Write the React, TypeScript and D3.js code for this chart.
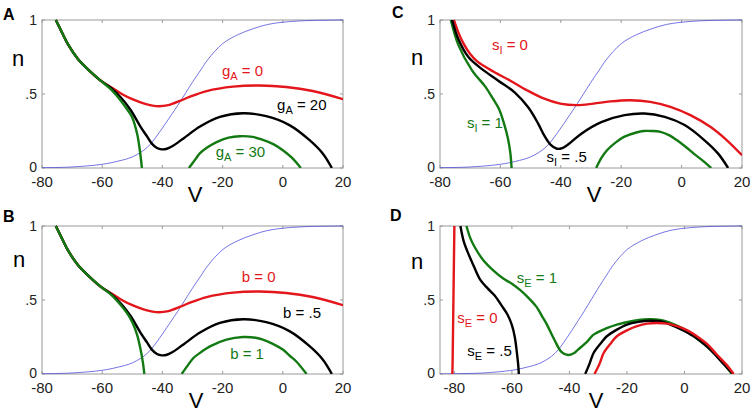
import React from "react";
import * as d3 from "d3";

type Pt = [number, number];

// ---- shared data ----
const X_TICKS_AB = [-80, -60, -40, -20, 0, 20];
const X_TICKS_CD = [-80, -60, -40, -20, 0, 20];
const Y_TICKS = [0, 0.5, 1];
const Y_TICK_LABELS = ["0", ".5", "1"];

// steady-state activation (blue, thin)
const N_INF: Pt[] = [
  [-85, 0.0], [-80, 0.002], [-70, 0.007], [-60, 0.025], [-55, 0.045], [-50, 0.075],
  [-45, 0.14], [-40, 0.27], [-37, 0.36], [-35, 0.42], [-32.5, 0.5], [-30, 0.58],
  [-27, 0.67], [-25, 0.73], [-20, 0.84], [-15, 0.9], [-10, 0.94], [-5, 0.97],
  [0, 0.985], [5, 0.993], [10, 0.997], [20, 1.0],
];

// ---- panel A ----
const A_RED: Pt[] = [
  [-75.4, 1], [-73, 0.9], [-71.5, 0.84], [-68.2, 0.74], [-64.9, 0.67], [-60.5, 0.59],
  [-57, 0.545], [-53.5, 0.5], [-50, 0.465], [-46, 0.435], [-42, 0.418], [-38, 0.425],
  [-34, 0.455], [-31, 0.48], [-25.3, 0.52], [-16.5, 0.55], [-7.7, 0.557], [1.1, 0.547],
  [9.9, 0.52], [20, 0.465],
];
const A_BLACK: Pt[] = [
  [-75.4, 1], [-73, 0.9], [-71.5, 0.84], [-68.2, 0.74], [-64.9, 0.67], [-60.5, 0.59],
  [-57, 0.54], [-53.5, 0.47], [-50.5, 0.39], [-47.3, 0.28], [-45, 0.21], [-43.5, 0.165],
  [-41.8, 0.135], [-40.2, 0.126], [-38.5, 0.13], [-36.9, 0.145], [-33, 0.2], [-27.5, 0.28],
  [-20.9, 0.345], [-13.2, 0.37], [-5.5, 0.35], [2.2, 0.29], [8.8, 0.19], [13.2, 0.1], [16.3, 0],
];
const A_GREEN_L: Pt[] = [
  [-75.4, 1], [-73, 0.9], [-71.5, 0.84], [-68.2, 0.74], [-64.9, 0.67], [-60.5, 0.59],
  [-57, 0.53], [-54, 0.46], [-51.5, 0.39], [-50.1, 0.345], [-48.4, 0.232], [-47.5, 0.12], [-46.8, 0],
];
const A_GREEN_R: Pt[] = [
  [-31.2, 0], [-29, 0.06], [-27.5, 0.1], [-25, 0.14], [-22, 0.175], [-18, 0.205],
  [-14.3, 0.215], [-10, 0.21], [-6.6, 0.19], [-3, 0.16], [0, 0.12], [3, 0.07], [6, 0],
];

// ---- panel B ----
const B_RED: Pt[] = A_RED;
const B_BLACK: Pt[] = A_BLACK;
const B_GREEN_L: Pt[] = [
  [-75.4, 1], [-73, 0.9], [-71.5, 0.84], [-68.2, 0.74], [-64.9, 0.67], [-60.5, 0.59],
  [-57, 0.535], [-54, 0.47], [-51.7, 0.41], [-50, 0.35], [-48.4, 0.265], [-47.3, 0.17], [-46.5, 0.08], [-46, 0],
];
const B_GREEN_R: Pt[] = [
  [-33.6, 0], [-31.5, 0.06], [-29.7, 0.108], [-27, 0.15], [-24.2, 0.187], [-18.7, 0.232],
  [-13.2, 0.25], [-9, 0.245], [-6.6, 0.232], [-3, 0.2], [0, 0.165], [2.5, 0.12], [4.4, 0.086], [7.9, 0],
];

// ---- panel C ----
const C_RED: Pt[] = [
  [-75.4, 1], [-74, 0.92], [-72.2, 0.84], [-70, 0.77], [-67.7, 0.72], [-62.2, 0.65],
  [-56.7, 0.59], [-51.2, 0.525], [-45.7, 0.47], [-40.2, 0.435], [-34.7, 0.425], [-29.2, 0.435],
  [-23.6, 0.45], [-17, 0.458], [-10.4, 0.447], [-3.7, 0.413], [2.9, 0.357], [9.5, 0.278],
  [15, 0.187], [20, 0.086],
];
const C_BLACK: Pt[] = [
  [-76, 1], [-73.9, 0.87], [-70.6, 0.75], [-66.2, 0.67], [-60.7, 0.59], [-55.2, 0.51],
  [-50.8, 0.41], [-47.5, 0.3], [-45.5, 0.22], [-43.5, 0.16], [-41.3, 0.13], [-39.5, 0.135],
  [-37.5, 0.16], [-33.2, 0.232], [-26.6, 0.31], [-18.9, 0.357], [-12.3, 0.368], [-5.6, 0.345],
  [1, 0.29], [7.6, 0.187], [12.1, 0.097], [15.4, 0],
];
const C_GREEN_L: Pt[] = [
  [-76.4, 1], [-73.9, 0.83], [-69.4, 0.66], [-65, 0.55], [-62.5, 0.47], [-60.5, 0.4],
  [-58.8, 0.3], [-57.5, 0.2], [-56.7, 0.1], [-56.3, 0],
];
const C_GREEN_R: Pt[] = [
  [-28.3, 0], [-26.5, 0.07], [-24.7, 0.12], [-22, 0.17], [-19.1, 0.21], [-15, 0.24],
  [-12.5, 0.25], [-10, 0.25], [-7, 0.244], [-4, 0.22], [-1.5, 0.187], [1.5, 0.14],
  [4, 0.097], [7, 0.05], [9.8, 0],
];

// ---- panel D ----
const D_RED_L: Pt[] = [[-80.0, 1], [-80.2, 0.7], [-80.4, 0.4], [-80.6, 0.1], [-80.7, 0]];
const D_RED_R: Pt[] = [
  [-31.3, 0], [-29.5, 0.07], [-28.1, 0.142], [-25.5, 0.21], [-23.5, 0.255], [-20, 0.295],
  [-16.5, 0.323], [-13, 0.34], [-9.6, 0.345], [-6, 0.34], [-2.6, 0.323], [1, 0.295],
  [4.3, 0.255], [8, 0.2], [11.3, 0.13], [14.5, 0.065], [17.1, 0],
];
const D_BLACK_L: Pt[] = [
  [-77.9, 1], [-76.8, 0.9], [-75.3, 0.82], [-73.5, 0.74], [-71.1, 0.64], [-68.5, 0.58],
  [-66, 0.53], [-63.5, 0.46], [-61.5, 0.4], [-60, 0.33], [-59, 0.25], [-58.3, 0.15],
  [-57.8, 0.06], [-57.6, 0],
];
const D_BLACK_R: Pt[] = [
  [-34.5, 0], [-33, 0.07], [-31.6, 0.142], [-29, 0.21], [-27, 0.255], [-23.5, 0.3],
  [-20, 0.334], [-16, 0.352], [-11.9, 0.36], [-8, 0.355], [-4.9, 0.334], [-1, 0.3],
  [3.2, 0.255], [7, 0.2], [10.1, 0.142], [13.5, 0.07], [16.9, 0],
];
const D_GREEN: Pt[] = [
  [-75.8, 1], [-74.5, 0.92], [-73, 0.86], [-70, 0.77], [-66.5, 0.7], [-63, 0.645],
  [-60, 0.61], [-57.3, 0.57], [-54.5, 0.52], [-51.5, 0.455], [-49.5, 0.39], [-48, 0.34],
  [-45.2, 0.23], [-42.8, 0.15], [-40.5, 0.128], [-38.5, 0.14], [-37, 0.165], [-34, 0.215],
  [-31.6, 0.266], [-27, 0.31], [-23.5, 0.334], [-18, 0.358], [-14.2, 0.368], [-10, 0.368],
  [-7.2, 0.36], [-3, 0.33], [0.9, 0.29], [5, 0.23], [9, 0.165], [13, 0.085], [16.5, 0],
];

const RED = "#e3161b";
const BLACK = "#000000";
const GREEN = "#137a13";
const BLUE = "#3a3ad8";
const FONT = "'Liberation Sans', Arial, Helvetica, sans-serif";

type Label = { v: number; n: number; main: string; sub: string; rest: string; color: string };
type Series = { pts: Pt[]; color: string };

type PanelSpec = {
  letter: string;
  letterX: number;
  letterY: number;
  left: number;
  right: number;
  top: number;
  bottom: number;
  domain: [number, number];
  ticks: number[];
  nX: number;
  nY: number;
  vX: number;
  series: Series[];
  labels: Label[];
};

const PANELS: PanelSpec[] = [
  {
    letter: "A", letterX: 3, letterY: 20,
    left: 42, right: 343, top: 20, bottom: 168, domain: [-80, 20], ticks: X_TICKS_AB,
    nX: 12, nY: 66, vX: 195,
    series: [
      { pts: A_RED, color: RED }, { pts: A_BLACK, color: BLACK }, { pts: A_GREEN_L, color: GREEN },
      { pts: A_GREEN_R, color: GREEN },
    ],
    labels: [
      { v: -20.2, n: 0.62, main: "g", sub: "A", rest: " = 0", color: RED },
      { v: -1.9, n: 0.395, main: "g", sub: "A", rest: " = 20", color: BLACK },
      { v: -22.3, n: 0.077, main: "g", sub: "A", rest: " = 30", color: GREEN },
    ],
  },
  {
    letter: "B", letterX: 3, letterY: 222,
    left: 42, right: 343, top: 226, bottom: 374, domain: [-80, 20], ticks: X_TICKS_AB,
    nX: 13, nY: 267, vX: 196,
    series: [
      { pts: B_RED, color: RED }, { pts: B_BLACK, color: BLACK }, { pts: B_GREEN_L, color: GREEN },
      { pts: B_GREEN_R, color: GREEN },
    ],
    labels: [
      { v: -13.6, n: 0.62, main: "b = 0", sub: "", rest: "", color: RED },
      { v: 0.1, n: 0.378, main: "b = .5", sub: "", rest: "", color: BLACK },
      { v: -17.5, n: 0.101, main: "b = 1", sub: "", rest: "", color: GREEN },
    ],
  },
  {
    letter: "C", letterX: 392, letterY: 18,
    left: 440, right: 742, top: 20, bottom: 168, domain: [-80, 20], ticks: X_TICKS_CD,
    nX: 411, nY: 65, vX: 594,
    series: [
      { pts: C_RED, color: RED }, { pts: C_GREEN_L, color: GREEN }, { pts: C_BLACK, color: BLACK },
      { pts: C_GREEN_R, color: GREEN },
    ],
    labels: [
      { v: -62.8, n: 0.797, main: "s", sub: "I", rest: " = 0", color: RED },
      { v: -71.1, n: 0.268, main: "s", sub: "I", rest: " = 1", color: GREEN },
      { v: -44.7, n: 0.043, main: "s", sub: "I", rest: " = .5", color: BLACK },
    ],
  },
  {
    letter: "D", letterX: 390, letterY: 221,
    left: 440, right: 742, top: 226, bottom: 374, domain: [-85, 20], ticks: X_TICKS_CD,
    nX: 411, nY: 269, vX: 596,
    series: [
      { pts: D_RED_L, color: RED }, { pts: D_BLACK_L, color: BLACK },
      { pts: D_GREEN, color: GREEN }, { pts: D_BLACK_R, color: BLACK }, { pts: D_RED_R, color: RED },
    ],
    labels: [
      { v: -58.3, n: 0.615, main: "s", sub: "E", rest: " = 1", color: GREEN },
      { v: -79, n: 0.343, main: "s", sub: "E", rest: " = 0", color: RED },
      { v: -75.5, n: 0.122, main: "s", sub: "E", rest: " = .5", color: BLACK },
    ],
  },
];

function Panel({ p, idx }: { p: PanelSpec; idx: number }) {
  const x = d3.scaleLinear().domain(p.domain).range([p.left, p.right]);
  const y = d3.scaleLinear().domain([0, 1]).range([p.bottom, p.top]);
  const line = d3
    .line<Pt>()
    .x((d) => x(d[0]))
    .y((d) => y(d[1]))
    .curve(d3.curveCatmullRom.alpha(0.5));
  const clipId = `clip-${idx}`;
  const frame = "#9a9a9a";
  const tl = 3;
  return (
    <g>
      <defs>
        <clipPath id={clipId}>
          <rect x={p.left} y={p.top - 2} width={p.right - p.left} height={p.bottom - p.top + 2} />
        </clipPath>
      </defs>
      <rect x={p.left} y={p.top} width={p.right - p.left} height={p.bottom - p.top} fill="#fff" stroke={frame} strokeWidth={1} />
      {p.ticks.map((t) => (
        <g key={`xt${t}`}>
          <line x1={x(t)} x2={x(t)} y1={p.bottom} y2={p.bottom - tl} stroke={frame} />
          <line x1={x(t)} x2={x(t)} y1={p.top} y2={p.top + tl} stroke={frame} />
          <text x={x(t)} y={p.bottom + 19} textAnchor="middle" fontSize={15} fontFamily={FONT} fill="#222">
            {t}
          </text>
        </g>
      ))}
      {Y_TICKS.map((t, i) => (
        <g key={`yt${t}`}>
          <line x1={p.left} x2={p.left + tl} y1={y(t)} y2={y(t)} stroke={frame} />
          <line x1={p.right} x2={p.right - tl} y1={y(t)} y2={y(t)} stroke={frame} />
          <text x={p.left - 5} y={y(t) + (t === 0 ? 4 : 5)} textAnchor="end" fontSize={14} fontFamily={FONT} fill="#222">
            {Y_TICK_LABELS[i]}
          </text>
        </g>
      ))}
      <g clipPath={`url(#${clipId})`}>
        <path d={line(N_INF.filter((d) => d[0] >= p.domain[0]) as Pt[]) || ""} fill="none" stroke={BLUE} strokeWidth={0.7} />
        {p.series.map((s, i) => (
          <path key={i} d={line(s.pts) || ""} fill="none" stroke={s.color} strokeWidth={2.4} strokeLinejoin="round" />
        ))}
      </g>
      {p.labels.map((l, i) => (
        <text key={i} x={x(l.v)} y={y(l.n)} fontSize={15} fontFamily={FONT} fill={l.color}>
          {l.main}
          {l.sub ? (
            <tspan fontSize={11} dy={4}>
              {l.sub}
            </tspan>
          ) : null}
          {l.rest ? <tspan dy={l.sub ? -4 : 0}>{l.rest}</tspan> : null}
        </text>
      ))}
      <text x={p.letterX} y={p.letterY} fontSize={16} fontWeight="bold" fontFamily={FONT} fill="#000">
        {p.letter}
      </text>
      <text x={p.nX} y={p.nY} fontSize={22} fontFamily={FONT} fill="#000">
        n
      </text>
      <text x={p.vX} y={p.bottom + 34} textAnchor="middle" fontSize={22} fontFamily={FONT} fill="#000">
        V
      </text>
    </g>
  );
}

export default function App() {
  return (
    <svg
      width={754}
      height={412}
      style={{ position: "absolute", left: 0, top: 0, background: "#fff" }}
      xmlns="http://www.w3.org/2000/svg"
    >
      <rect x={0} y={0} width={754} height={412} fill="#fff" />
      {PANELS.map((p, i) => (
        <Panel key={p.letter} p={p} idx={i} />
      ))}
    </svg>
  );
}
